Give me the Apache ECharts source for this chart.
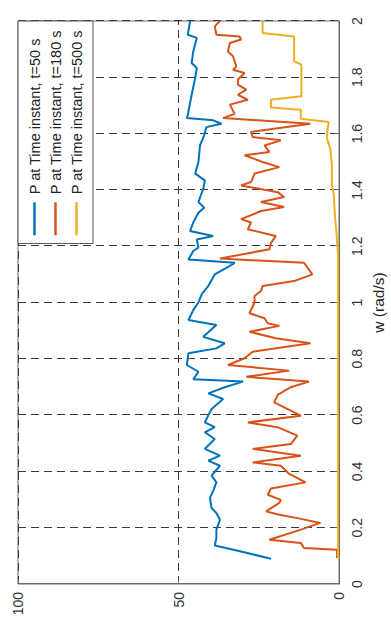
<!DOCTYPE html>
<html>
<head>
<meta charset="utf-8">
<script src="https://cdn.jsdelivr.net/npm/echarts@6/dist/echarts.min.js"></script>
<style>
  html, body { margin: 0; padding: 0; background: #fff; }
  #page { position: relative; width: 391px; height: 624px; overflow: hidden; background: #fff; }
  /* The plot is laid out landscape and turned a quarter turn counter-clockwise */
  #chart {
    position: absolute; left: 0; top: 0;
    width: 624px; height: 391px;
    transform-origin: 0 0;
    transform: translate(0, 624px) rotate(-90deg);
  }
</style>
</head>
<body>
<div id="page"><div id="chart"></div></div>
<script>
// Frequency w (rad/s) and P for each time instant
const w50 = [0.090,0.118,0.137,0.163,0.193,0.228,0.252,0.270,0.306,0.336,0.361,0.385,0.420,0.438,0.456,0.480,0.515,0.539,0.557,0.574,0.622,0.657,0.677,0.699,0.719,0.727,0.754,0.778,0.820,0.837,0.855,0.878,0.920,0.938,0.973,1.000,1.029,1.059,1.100,1.130,1.141,1.153,1.183,1.195,1.224,1.236,1.254,1.284,1.319,1.337,1.357,1.404,1.434,1.458,1.499,1.558,1.594,1.623,1.635,1.647,1.655,1.667,1.738,1.798,1.833,1.851,1.892,1.940,1.951,2.000];
const p50 = [21.2,31.5,38.7,38.2,38.2,37.1,38.2,39.7,40.2,39.0,38.2,39.7,37.1,40.7,37.1,41.8,38.7,41.8,38.7,41.8,39.7,36.1,40.7,35.6,29.9,45.4,43.8,47.4,46.9,38.2,35.6,42.3,38.2,46.9,45.4,43.8,42.8,40.7,38.7,34.0,32.5,46.9,45.4,43.8,44.3,39.2,46.4,45.4,43.8,42.0,43.8,42.3,41.8,44.8,43.8,43.3,42.0,41.3,36.6,39.2,47.4,47.1,45.9,44.8,44.3,45.9,45.4,44.3,47.1,46.4];

const w180 = [0.092,0.122,0.128,0.146,0.157,0.193,0.217,0.234,0.246,0.258,0.288,0.299,0.317,0.339,0.361,0.391,0.420,0.432,0.456,0.480,0.497,0.527,0.557,0.574,0.598,0.616,0.645,0.673,0.699,0.719,0.736,0.758,0.778,0.802,0.825,0.855,0.873,0.896,0.917,0.926,0.944,0.962,1.000,1.023,1.041,1.059,1.076,1.100,1.141,1.156,1.177,1.189,1.212,1.236,1.260,1.284,1.296,1.325,1.339,1.357,1.375,1.392,1.416,1.428,1.458,1.481,1.499,1.523,1.535,1.558,1.576,1.588,1.606,1.635,1.655,1.670,1.703,1.720,1.738,1.756,1.774,1.792,1.815,1.827,1.839,1.875,1.892,1.922,1.934,1.945,1.951,1.981,2.000];
const p180 = [0.6,0.6,10.9,11.9,21.7,11.9,5.8,13.0,18.6,22.7,18.6,18.1,22.2,21.2,10.4,15.5,18.1,26.9,11.9,26.9,15.0,13.0,19.1,28.4,11.9,15.0,20.2,19.0,15.0,9.4,28.9,15.5,34.6,29.4,26.9,8.9,19.7,27.9,18.6,22.2,23.2,27.9,26.3,26.3,24.3,23.8,14.0,8.3,10.9,37.1,27.4,21.7,21.2,19.7,28.4,27.4,30.5,24.3,17.1,24.3,17.1,19.1,30.5,27.4,26.3,18.6,23.8,29.4,21.7,23.2,18.1,26.9,27.4,8.9,36.1,32.5,34.0,28.4,31.5,28.9,31.5,31.5,29.4,33.0,32.0,33.0,34.6,34.0,30.5,31.0,38.2,38.7,37.1];

const w500 = [0.092,0.100,1.170,1.200,1.250,1.300,1.333,1.381,1.416,1.487,1.546,1.582,1.606,1.641,1.653,1.685,1.693,1.720,1.733,1.845,1.857,1.945,1.957,2.000];
const p500 = [0.0,0.3,0.3,0.5,0.8,1.2,1.4,1.6,2.2,2.2,2.7,3.7,3.7,3.2,11.9,11.9,21.2,21.2,11.7,11.7,14.0,14.0,23.8,23.8];

const seriesNames = ['P at Time instant, t=50 s', 'P at Time instant, t=180 s', 'P at Time instant, t=500 s'];
const seriesColors = ['#0072BD', '#D95319', '#EDB120'];

const pairs = (ws, ps) => ws.map((w, i) => [w, ps[i]]);
const seriesData = [pairs(w50, p50), pairs(w180, p180), pairs(w500, p500)];

const FONT = "'Liberation Sans', Arial, Helvetica, sans-serif";
const gridLine = { show: true, lineStyle: { color: '#3a3a3a', width: 1, type: [8, 5] } };

const chart = echarts.init(document.getElementById('chart'), null, { renderer: 'svg', width: 624, height: 391 });

chart.setOption({
  animation: false,
  backgroundColor: '#fff',
  textStyle: { fontFamily: FONT },
  grid: { left: 40, right: 21, top: 18, bottom: 49, show: true, borderColor: '#6a6a6a', borderWidth: 1, backgroundColor: '#fff' },
  xAxis: {
    type: 'value', min: 0, max: 2, interval: 0.2,
    name: 'w (rad/s)', nameLocation: 'middle', nameGap: 31,
    nameTextStyle: { fontSize: 15.5, color: '#262626', fontFamily: FONT },
    axisLine: { show: true, lineStyle: { color: '#6a6a6a' } },
    axisTick: { show: true, inside: true, length: 4, lineStyle: { color: '#6a6a6a' } },
    axisLabel: { fontSize: 14, color: '#333', margin: 11, fontFamily: FONT,
      formatter: v => String(Math.round(v * 10) / 10) },
    splitLine: gridLine
  },
  yAxis: {
    type: 'value', min: 0, max: 100, interval: 50,
    axisLine: { show: true, lineStyle: { color: '#6a6a6a' } },
    axisTick: { show: true, inside: true, length: 4, lineStyle: { color: '#6a6a6a' } },
    axisLabel: { fontSize: 14, color: '#333', margin: 8, fontFamily: FONT },
    splitLine: gridLine
  },
  legend: {
    orient: 'vertical', right: 21, top: 18,
    padding: [9, 9, 9, 7], itemGap: 6,
    itemWidth: 33, itemHeight: 14,
    backgroundColor: '#fff', borderColor: '#555', borderWidth: 1,
    // plain line samples, no marker
    itemStyle: { opacity: 0 },
    lineStyle: { width: 2.5 },
    textStyle: { fontSize: 14.5, color: '#222', fontFamily: FONT, padding: [0, 0, 0, 3] },
    data: seriesNames
  },
  series: seriesData.map((d, i) => ({
    name: seriesNames[i], type: 'line', data: d,
    symbol: 'none', showSymbol: false,
    color: seriesColors[i],
    lineStyle: { color: seriesColors[i], width: 2 },
    z: 3 + i
  }))
});
</script>
</body>
</html>
